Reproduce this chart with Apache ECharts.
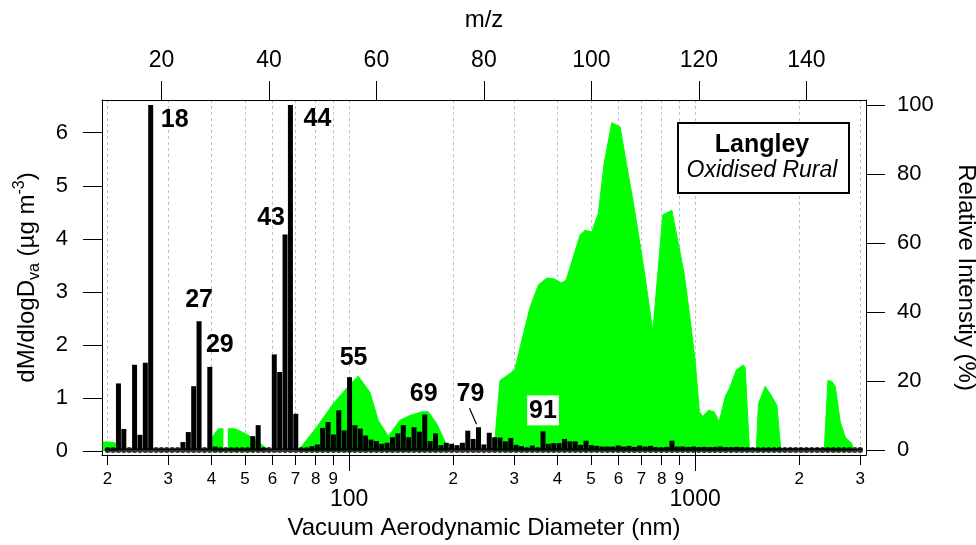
<!DOCTYPE html>
<html><head><meta charset="utf-8">
<script src="https://cdn.jsdelivr.net/npm/echarts@6/dist/echarts.min.js"></script>
<style>html,body{margin:0;padding:0;background:#fff}#c{width:976px;height:545px}</style>
</head><body><div id="c"></div>
<script>
// ---- mass spectrum (top m/z axis, right % axis) ----
const mzStart = 10;
const intensity = [
  0.4, 0.4, 19.3, 6.1, 0.4, 24.7, 4.4, 25.3, 100, 0.4,      // 10-19
  0.4, 0.4, 0.4, 0.4, 2.3, 5.2, 18.5, 37.3, 0.4, 24.1,      // 20-29
  1.0, 0.4, 0.4, 0.4, 0.4, 0.4, 0.4, 4.0, 7.2, 0.5,         // 30-39
  0.4, 27.7, 22.6, 62.5, 100, 10.5, 0.4, 0.4, 1.1, 1.6,     // 40-49
  6.4, 8.1, 4.5, 11.5, 5.7, 21.1, 7.2, 6.2, 4.2, 3.0,       // 50-59
  2.6, 1.8, 2.1, 3.7, 4.8, 7.2, 3.7, 6.6, 5.3, 10.3,        // 60-69
  2.6, 4.8, 1.4, 2.1, 1.8, 1.4, 2.1, 5.6, 3.2, 6.6,         // 70-79
  1.6, 5.0, 3.7, 3.6, 2.5, 3.5, 1.5, 1.1, 0.6, 1.3,         // 80-89
  0.6, 5.4, 1.8, 2.0, 2.0, 3.2, 2.5, 2.5, 1.5, 2.7,         // 90-99
  1.4, 1.2, 1.0, 1.0, 1.0, 1.3, 1.0, 1.2, 0.9, 1.3,         // 100-109
  1.0, 1.2, 0.8, 0.7, 0.9, 2.7, 1.0, 1.0, 0.9, 1.0,         // 110-119
  0.8, 0.9, 0.8, 0.9, 1.0, 0.8, 0.8, 0.9, 0.8, 0.7,         // 120-129
  0.6, 0.5, 0.5, 0.6, 0.6, 0.6, 0.5, 0.6, 0.5, 0.6,         // 130-139
  0.5, 0.5, 0.6, 0.5, 0.5, 0.4, 0.4, 0.4, 0.3, 0.3,         // 140-149
  0.4                                                       // 150
];
const peakLabels = [18, 44, 43, 27, 29, 55, 69, 79, 91];

// ---- size distribution (bottom log axis, left axis); null = gap ----
const diameters = [
  19.4, 20.3, 21.1, 21.4, null,
  40.0, 40.2, 41.9, 43.3, null,
  44.6, 46.7, 48.3, 52.3, 55.9, 58.2, null,
  71.1, 80.5, 89.9, 100, 106.2, 114.8, 121.3, 129.7, 140.2, 149.8, 162.0, 169.3, 179.0, 191.3, 193.0, null,
  262, 272.9, 291.6, 301.5, 316.0, 333.3, 352.2, 372.4, 389.1, 411.5, 423.5, 464.9, 480.6, 502.4, 525.0,
  545.6, 574.1, 606.8, 670.8, 716.9, 754.5, 806.4, 856.3, 929.3, 962.7, 1000, 1028.9, 1052.7, 1092.7,
  1135.0, 1173.3, 1221.2, 1262.6, 1314.0, 1374.0, 1395, 1436, null,
  1501, 1524.3, 1593.3, 1647.9, 1723.3, 1770, null,
  2361, 2420, 2486, 2541, 2627, 2716, 2840, 2864
];
const massConc = [
  0.17, 0.17, 0.15, 0, null,
  0, 0.26, 0.42, 0.42, null,
  0.42, 0.42, 0.38, 0.26, 0.12, 0.03, null,
  0, 0.45, 0.89, 1.24, 1.41, 1.11, 0.58, 0.28, 0.58, 0.67, 0.74, 0.74, 0.52, 0.11, 0, null,
  0, 1.33, 1.46, 1.55, 2.1, 2.71, 3.13, 3.26, 3.25, 3.17, 3.22, 4.07, 4.16, 4.13, 4.48,
  5.42, 6.19, 6.11, 4.48, 3.28, 2.25, 4.45, 4.54, 3.35, 2.59, 1.71, 0.74, 0.65, 0.77,
  0.74, 0.55, 1.02, 1.21, 1.52, 1.62, 1.58, 0, null,
  0, 0.89, 1.22, 1.08, 0.86, 0, null,
  0, 1.33, 1.31, 1.22, 0.55, 0.26, 0.14, 0
];

// ---- ticks ----
const bottomMinorTicks = [20, 30, 40, 50, 60, 70, 80, 90, 200, 300, 400, 500, 600, 700, 800, 900, 2000, 3000];
const bottomMajorTicks = [100, 1000];
const bottomAllTicks = [20, 30, 40, 50, 60, 70, 80, 90, 100, 200, 300, 400, 500, 600, 700, 800, 900, 1000, 2000, 3000];
const topTicks = [20, 40, 60, 80, 100, 120, 140];
const leftTicks = [0, 1, 2, 3, 4, 5, 6];
const rightTicks = [0, 20, 40, 60, 80, 100];

// ---- styles ----
const FONT = '"Liberation Sans", Arial, sans-serif';
const labelOffsets = {18: [24, 33], 44: [27, 32], 43: [-14, 1], 27: [0, -4], 29: [10, -4],
                      55: [4, -2], 69: [-1, -3], 79: [-8, -16], 91: [0, -1]};

const chart = echarts.init(document.getElementById('c'), null, {renderer: 'canvas'});

const barData = intensity.map((v, i) => {
  const mz = mzStart + i;
  const item = {value: [mz, v]};
  if (peakLabels.indexOf(mz) >= 0) {
    item.label = {
      show: true, position: 'top', formatter: String(mz), offset: labelOffsets[mz],
      fontSize: 25, fontWeight: 'bold', color: '#000', fontFamily: FONT
    };
    if (mz === 91) { item.label.backgroundColor = '#fff'; item.label.padding = [3, 2, 2, 2]; }
  }
  return item;
});
const dotData = intensity.map((v, i) => [mzStart + i, 0]);
const greenData = diameters.map((d, i) => (d === null || massConc[i] === null) ? ['-', '-'] : [d, massConc[i]]);

const leadDigit = v => { const n = Math.round(v); const p = Math.pow(10, Math.floor(Math.log10(n) + 1e-9)); return String(Math.round(n / p)); };
const axisLineStyle = {show: true, onZero: false, lineStyle: {color: '#000', width: 1}};

const option = {
  animation: false,
  textStyle: {fontFamily: FONT},
  grid: {left: 102, right: 110, top: 100, bottom: 90, show: false, containLabel: false, outerBoundsMode: 'none'},
  xAxis: [
    {
      type: 'log', logBase: 10, position: 'bottom', min: 19.3, max: 3118,
      axisLine: axisLineStyle,
      axisTick: {show: true, inside: false, length: 10, customValues: bottomAllTicks, lineStyle: {color: '#000', width: 1}},
      axisLabel: {customValues: bottomMinorTicks, formatter: leadDigit, fontSize: 17, color: '#000', margin: 16, fontFamily: FONT},
      splitLine: {show: true, lineStyle: {color: '#c0c0c0', type: [3, 3], width: 1}},
      minorTick: {show: false}, minorSplitLine: {show: false},
      name: 'Vacuum Aerodynamic Diameter (nm)', nameLocation: 'middle', nameGap: 61,
      nameTextStyle: {fontSize: 24, color: '#000', fontFamily: FONT}
    },
    {
      type: 'log', logBase: 10, position: 'bottom', min: 19.3, max: 3118,
      axisLine: {show: false},
      axisTick: {show: true, inside: false, length: 20, customValues: bottomMajorTicks, lineStyle: {color: '#000', width: 1}},
      axisLabel: {customValues: bottomMajorTicks, formatter: v => String(Math.round(v)), fontSize: 23, color: '#000', margin: 33, fontFamily: FONT},
      splitLine: {show: false}
    },
    {
      type: 'value', position: 'top', min: 8.94, max: 151.1,
      axisLine: axisLineStyle,
      axisTick: {show: true, inside: false, length: 19, customValues: topTicks, lineStyle: {color: '#000', width: 1}},
      axisLabel: {customValues: topTicks, fontSize: 23, color: '#000', margin: 28, fontFamily: FONT},
      splitLine: {show: false},
      name: 'm/z', nameLocation: 'middle', nameGap: 68,
      nameTextStyle: {fontSize: 24, color: '#000', fontFamily: FONT}
    }
  ],
  yAxis: [
    {
      type: 'value', position: 'left', min: -0.075, max: 6.617,
      axisLine: axisLineStyle,
      axisTick: {show: true, inside: false, length: 19, customValues: leftTicks, lineStyle: {color: '#000', width: 1}},
      axisLabel: {customValues: leftTicks, fontSize: 22, color: '#000', margin: 34, fontFamily: FONT},
      splitLine: {show: false},
      name: '{a|dM/dlogD}{s|va}{a| (µg m}{p|-3}{a|)}', nameLocation: 'middle', nameGap: 52, nameRotate: 90,
      nameTextStyle: {
        color: '#000', fontFamily: FONT,
        rich: {
          a: {fontSize: 24, color: '#000', fontFamily: FONT, lineHeight: 34, verticalAlign: 'middle'},
          s: {fontSize: 16, color: '#000', fontFamily: FONT, lineHeight: 34, verticalAlign: 'bottom', padding: [0, 0, 2, 0]},
          p: {fontSize: 16, color: '#000', fontFamily: FONT, lineHeight: 34, verticalAlign: 'top', padding: [1, 0, 0, 0]}
        }
      }
    },
    {
      type: 'value', position: 'right', min: -1.45, max: 101.45,
      axisLine: axisLineStyle,
      axisTick: {show: true, inside: false, length: 19, customValues: rightTicks, lineStyle: {color: '#000', width: 1}},
      axisLabel: {customValues: rightTicks, fontSize: 22, color: '#000', margin: 31, fontFamily: FONT},
      splitLine: {show: false},
      name: 'Relative Intenstiy (%)', nameLocation: 'middle', nameGap: 88, nameRotate: -90,
      nameTextStyle: {fontSize: 24, color: '#000', fontFamily: FONT}
    }
  ],
  series: [
    {
      name: 'size', type: 'line', xAxisIndex: 0, yAxisIndex: 0, data: greenData,
      showSymbol: false, symbol: 'none', connectNulls: false, smooth: false,
      lineStyle: {color: '#00ff00', width: 1}, areaStyle: {color: '#00ff00', opacity: 1, origin: 0},
      z: 2, silent: true
    },
    {
      name: 'ms', type: 'bar', xAxisIndex: 2, yAxisIndex: 1, data: barData,
      barWidth: 5, itemStyle: {color: '#000'}, z: 3, silent: true
    },
    {
      name: 'dots', type: 'scatter', xAxisIndex: 2, yAxisIndex: 1, data: dotData,
      symbol: 'circle', symbolSize: 6, itemStyle: {color: '#000'}, z: 4, silent: true
    }
  ]
};
chart.setOption(option);

// leader line for m/z 79 label and the site box
const i79 = 79 - mzStart;
const p79 = chart.convertToPixel({xAxisIndex: 2, yAxisIndex: 1}, [79, intensity[i79]]);
chart.setOption({
  graphic: [
    {type: 'line', shape: {x1: p79[0] - 9, y1: p79[1] - 19, x2: p79[0] - 2, y2: p79[1] - 3},
     style: {stroke: '#000', lineWidth: 1.2}, z: 10, silent: true},
    {type: 'rect', left: 677, top: 122, shape: {width: 171, height: 70},
     style: {fill: '#fff', stroke: '#000', lineWidth: 2}, z: 10, silent: true},
    {type: 'text', x: 762, y: 145, style: {text: 'Langley', font: 'bold 25px ' + FONT, fill: '#000', align: 'center', verticalAlign: 'middle'}, z: 11, silent: true},
    {type: 'text', x: 762, y: 171, style: {text: 'Oxidised Rural', font: 'italic 23px ' + FONT, fill: '#000', align: 'center', verticalAlign: 'middle'}, z: 11, silent: true}
  ]
});
</script>
</body></html>
